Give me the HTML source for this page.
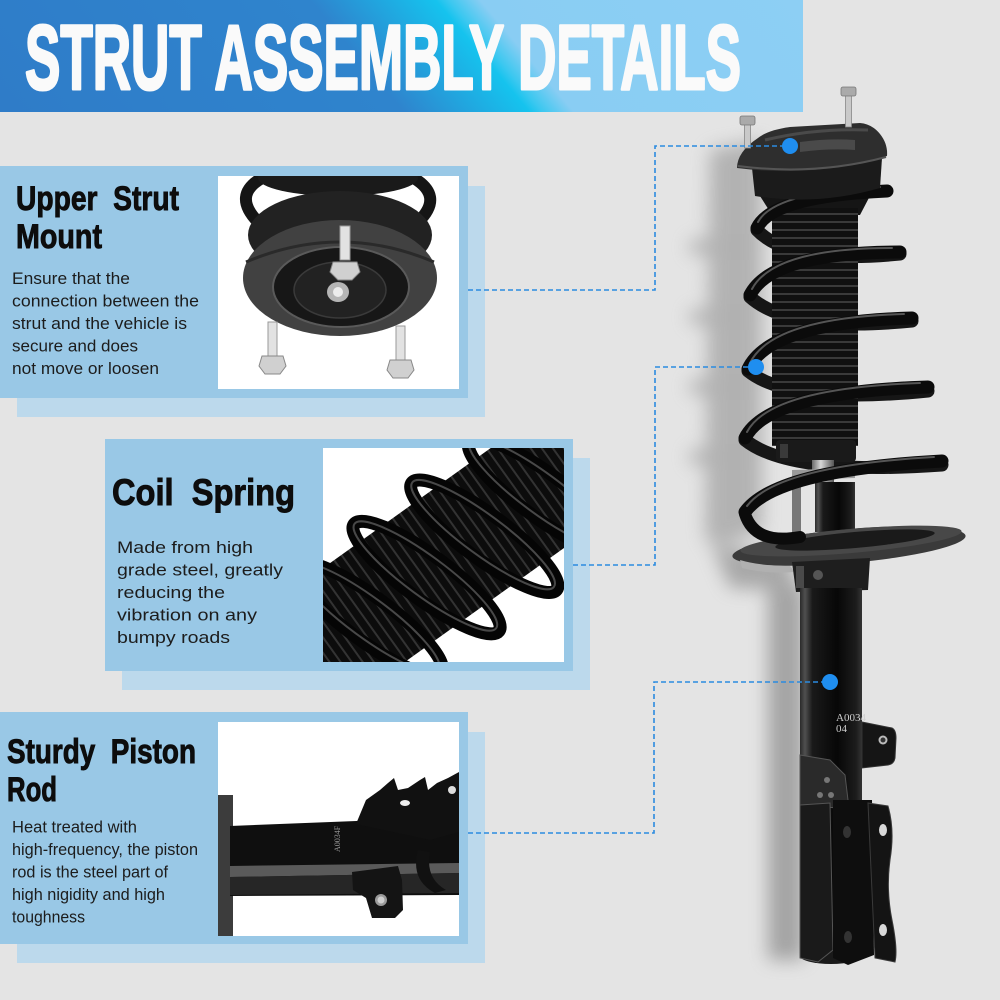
<!DOCTYPE html>
<html>
<head>
<meta charset="utf-8">
<style>
  html,body{margin:0;padding:0;background:#e4e4e4;}
  svg{display:block;}
  .t{font-family:"Liberation Sans",Arial,sans-serif;font-weight:bold;fill:#0d0d0d;stroke:#0d0d0d;stroke-width:0.9px;white-space:pre;}
  .b{font-family:"Liberation Sans",Arial,sans-serif;font-size:16.5px;fill:#1c1c1c;white-space:pre;}
</style>
</head>
<body>
<svg width="1000" height="1000" viewBox="0 0 1000 1000" xmlns="http://www.w3.org/2000/svg">
<defs>
  <linearGradient id="ban" gradientUnits="userSpaceOnUse" x1="0" y1="112" x2="526" y2="-330">
    <stop offset="0" stop-color="#2f7cc8"/>
    <stop offset="0.45" stop-color="#2f84cd"/>
    <stop offset="0.59" stop-color="#15c3ee"/>
    <stop offset="0.605" stop-color="#3cc8f0"/>
    <stop offset="0.64" stop-color="#89cdf3"/>
    <stop offset="1" stop-color="#8dcff4"/>
  </linearGradient>
  <linearGradient id="tube" x1="0" y1="0" x2="1" y2="0">
    <stop offset="0" stop-color="#2a2a2a"/>
    <stop offset="0.08" stop-color="#505050"/>
    <stop offset="0.2" stop-color="#1a1a1a"/>
    <stop offset="0.6" stop-color="#070707"/>
    <stop offset="0.9" stop-color="#1c1c1c"/>
    <stop offset="1" stop-color="#333"/>
  </linearGradient>
  <linearGradient id="silver" x1="0" y1="0" x2="1" y2="0">
    <stop offset="0" stop-color="#6a6a6a"/>
    <stop offset="0.4" stop-color="#d8d8d8"/>
    <stop offset="1" stop-color="#555"/>
  </linearGradient>
  <pattern id="ribs" x="772" y="0" width="86" height="8" patternUnits="userSpaceOnUse">
    <rect width="86" height="8" fill="#101010"/>
    <rect y="5" width="86" height="2" fill="#3a3a3a"/>
  </pattern>
  <pattern id="ribs2" x="0" y="0" width="9" height="160" patternUnits="userSpaceOnUse">
    <rect width="9" height="160" fill="#0c0c0c"/>
    <rect x="6" width="2" height="160" fill="#333"/>
  </pattern>
  <filter id="blur" x="-50%" y="-50%" width="200%" height="200%"><feGaussianBlur stdDeviation="9"/></filter>
  <clipPath id="c1"><rect x="218" y="176" width="241" height="213"/></clipPath>
  <clipPath id="c2"><rect x="323" y="448" width="241" height="214"/></clipPath>
  <clipPath id="c3"><rect x="218" y="722" width="241" height="214"/></clipPath>
</defs>

<!-- background -->
<rect width="1000" height="1000" fill="#e4e4e4"/>

<!-- banner -->
<rect x="0" y="0" width="803" height="112" fill="url(#ban)"/>
<text x="25" y="89" font-family="Liberation Sans, Arial, sans-serif" font-weight="bold" font-size="92" fill="#fafafa" stroke="#fafafa" stroke-width="3" stroke-linejoin="round" textLength="716" lengthAdjust="spacingAndGlyphs">STRUT ASSEMBLY DETAILS</text>

<!-- ===== Panel 1 ===== -->
<rect x="17" y="186" width="468" height="231" fill="#bcd9ec"/>
<rect x="0" y="166" width="468" height="232" fill="#99c8e6"/>
<rect x="218" y="176" width="241" height="213" fill="#ffffff"/>
<g clip-path="url(#c1)">
  <path d="M258 222 Q232 195 262 178" fill="none" stroke="#151515" stroke-width="12"/>
  <path d="M418 222 Q446 195 410 176" fill="none" stroke="#151515" stroke-width="12"/>
  <ellipse cx="338" cy="178" rx="80" ry="18" fill="#1a1a1a"/>
  <ellipse cx="340" cy="235" rx="92" ry="44" fill="#222"/>
  <ellipse cx="340" cy="278" rx="97" ry="58" fill="#414141"/>
  <path d="M246 262 Q340 222 434 262" fill="none" stroke="#2a2a2a" stroke-width="3"/>
  <ellipse cx="341" cy="287" rx="68" ry="40" fill="#171717" stroke="#5a5a5a" stroke-width="2"/>
  <ellipse cx="340" cy="290" rx="46" ry="28" fill="#222" stroke="#3a3a3a" stroke-width="1.5"/>
  <ellipse cx="338" cy="292" rx="11" ry="10" fill="#b5b5b5"/>
  <ellipse cx="338" cy="292" rx="5" ry="5" fill="#ececec"/>
  <rect x="340" y="226" width="10" height="34" fill="#e2e2e2" stroke="#999" stroke-width="1"/>
  <polygon points="333,262 357,262 360,272 352,280 338,280 330,272" fill="#d0d0d0" stroke="#888" stroke-width="1"/>
  <rect x="268" y="322" width="9" height="34" fill="#e2e2e2" stroke="#999" stroke-width="1"/>
  <polygon points="262,356 283,356 286,366 280,374 265,374 259,366" fill="#d0d0d0" stroke="#888" stroke-width="1"/>
  <rect x="396" y="326" width="9" height="34" fill="#e2e2e2" stroke="#999" stroke-width="1"/>
  <polygon points="390,360 411,360 414,370 408,378 393,378 387,370" fill="#d0d0d0" stroke="#888" stroke-width="1"/>
</g>
<text class="t" x="16" y="210" font-size="34" textLength="163" lengthAdjust="spacingAndGlyphs">Upper  Strut</text>
<text class="t" x="16" y="248" font-size="34" textLength="86" lengthAdjust="spacingAndGlyphs">Mount</text>
<text class="b" x="12" y="284" textLength="118" lengthAdjust="spacingAndGlyphs">Ensure that the</text>
<text class="b" x="12" y="306.5" textLength="187" lengthAdjust="spacingAndGlyphs">connection between the</text>
<text class="b" x="12" y="329" textLength="175" lengthAdjust="spacingAndGlyphs">strut and the vehicle is</text>
<text class="b" x="12" y="351.5" textLength="126" lengthAdjust="spacingAndGlyphs">secure and does</text>
<text class="b" x="12" y="374" textLength="147" lengthAdjust="spacingAndGlyphs">not move or loosen</text>

<!-- ===== Panel 2 ===== -->
<rect x="122" y="458" width="468" height="232" fill="#bcd9ec"/>
<rect x="105" y="439" width="468" height="232" fill="#99c8e6"/>
<rect x="323" y="448" width="241" height="214" fill="#ffffff"/>
<g clip-path="url(#c2)">
  <g transform="translate(445,557) rotate(-35.6)">
    <rect x="-290" y="-80" width="130" height="160" fill="#1c1c1c"/>
    <rect x="-260" y="-62" width="540" height="124" fill="url(#ribs2)"/>
    <g fill="none" stroke="#050505" stroke-width="13">
      <ellipse cx="-98" cy="6" rx="22" ry="90" transform="rotate(-18 -98 6)"/>
      <ellipse cx="-27" cy="6" rx="22" ry="90" transform="rotate(-18 -27 6)"/>
      <ellipse cx="44" cy="6" rx="22" ry="90" transform="rotate(-18 44 6)"/>
      <ellipse cx="115" cy="6" rx="22" ry="90" transform="rotate(-18 115 6)"/>
    </g>
    <g fill="none" stroke="#484848" stroke-width="2">
      <ellipse cx="-98" cy="4" rx="20" ry="88" transform="rotate(-18 -98 4)"/>
      <ellipse cx="-27" cy="4" rx="20" ry="88" transform="rotate(-18 -27 4)"/>
      <ellipse cx="44" cy="4" rx="20" ry="88" transform="rotate(-18 44 4)"/>
      <ellipse cx="115" cy="4" rx="20" ry="88" transform="rotate(-18 115 4)"/>
    </g>
  </g>
</g>
<text class="t" x="112" y="505" font-size="37" textLength="183" lengthAdjust="spacingAndGlyphs">Coil  Spring</text>
<text class="b" x="117" y="553" textLength="136" lengthAdjust="spacingAndGlyphs">Made from high</text>
<text class="b" x="117" y="575.5" textLength="166" lengthAdjust="spacingAndGlyphs">grade steel, greatly</text>
<text class="b" x="117" y="598" textLength="108" lengthAdjust="spacingAndGlyphs">reducing the</text>
<text class="b" x="117" y="620.5" textLength="140" lengthAdjust="spacingAndGlyphs">vibration on any</text>
<text class="b" x="117" y="643" textLength="113" lengthAdjust="spacingAndGlyphs">bumpy roads</text>

<!-- ===== Panel 3 ===== -->
<rect x="17" y="732" width="468" height="231" fill="#bcd9ec"/>
<rect x="0" y="712" width="468" height="232" fill="#99c8e6"/>
<rect x="218" y="722" width="241" height="214" fill="#ffffff"/>
<g clip-path="url(#c3)">
  <rect x="218" y="795" width="15" height="141" fill="#3c3c3c"/>
  <path d="M230 826 L459 817 L459 895 L230 896 Z" fill="#0f0f0f"/>
  <path d="M230 866 L459 863 L459 873 L230 877 Z" fill="#5a5a5a"/>
  <path d="M230 877 L459 873 L459 893 L230 895 Z" fill="#262626"/>
  <path d="M356 824 L366 800 L380 790 L388 783 L394 778 L398 790 L408 788 L420 780 L425 777 L428 790 L437 783 L448 778 L459 772 L459 832 L430 840 Z" fill="#111"/>
  <ellipse cx="405" cy="803" rx="5" ry="3" fill="#eee"/>
  <circle cx="452" cy="790" r="4" fill="#ddd"/>
  <path d="M418 850 Q410 880 435 893 L446 890 Q425 878 430 852 Z" fill="#111"/>
  <path d="M352 872 L398 866 L402 880 L403 910 L395 918 L372 918 L366 898 L353 890 Z" fill="#141414"/>
  <circle cx="381" cy="900" r="6" fill="#9a9a9a"/>
  <circle cx="381" cy="900" r="3.5" fill="#cfcfcf"/>
  <text transform="translate(340,852) rotate(-90)" font-family="Liberation Serif, serif" font-size="8" fill="#9a9a9a">A0034F</text>
</g>
<text class="t" x="7" y="763" font-size="34" textLength="189" lengthAdjust="spacingAndGlyphs">Sturdy  Piston</text>
<text class="t" x="7" y="801" font-size="34" textLength="50" lengthAdjust="spacingAndGlyphs">Rod</text>
<text class="b" x="12" y="832.5" textLength="125" lengthAdjust="spacingAndGlyphs">Heat treated with</text>
<text class="b" x="12" y="855" textLength="186" lengthAdjust="spacingAndGlyphs">high-frequency, the piston</text>
<text class="b" x="12" y="877.5" textLength="156" lengthAdjust="spacingAndGlyphs">rod is the steel part of</text>
<text class="b" x="12" y="900" textLength="153" lengthAdjust="spacingAndGlyphs">high nigidity and high</text>
<text class="b" x="12" y="922.5" textLength="73" lengthAdjust="spacingAndGlyphs">toughness</text>

<!-- ===== Strut (right) ===== -->
<g filter="url(#blur)" opacity="0.55">
  <path d="M710 150 L762 140 L762 530 L725 545 L705 540 Z" fill="#8a8a8a"/>
  <rect x="690" y="240" width="70" height="14" fill="#888"/>
  <rect x="690" y="310" width="70" height="14" fill="#888"/>
  <rect x="690" y="380" width="70" height="14" fill="#888"/>
  <rect x="690" y="450" width="70" height="14" fill="#888"/>
  <rect x="768" y="585" width="36" height="375" fill="#707070"/>
  <path d="M712 545 L790 558 L795 590 L730 588 Z" fill="#777"/>
</g>

<!-- back strands -->
<g fill="none" stroke="#161616" stroke-width="13" stroke-linecap="round">
  <path d="M757 230 Q790 265 900 254"/>
  <path d="M750 297 Q790 333 912 321"/>
  <path d="M748 371 Q790 405 928 391"/>
  <path d="M745 440 Q790 476 942 465"/>
</g>

<!-- bellows -->
<path d="M760 196 L872 192 L860 215 L772 215 Z" fill="#151515"/>
<rect x="772" y="208" width="86" height="238" fill="url(#ribs)"/>
<rect x="776" y="440" width="80" height="22" rx="4" fill="#1a1a1a"/>
<rect x="780" y="444" width="8" height="14" fill="#3a3a3a"/>
<rect x="812" y="460" width="22" height="22" fill="url(#silver)"/>
<path d="M792 470 L855 468 L855 478 L792 480 Z" fill="#9a9a9a"/>
<rect x="792" y="478" width="9" height="60" fill="#777"/>
<rect x="815" y="482" width="40" height="50" fill="url(#tube)"/>

<!-- front arches -->
<g fill="none" stroke="#0b0b0b" stroke-width="13" stroke-linecap="round">
  <path d="M757 228 Q772 196 887 191"/>
  <path d="M750 295 Q772 252 900 252"/>
  <path d="M748 369 Q770 322 912 318"/>
  <path d="M745 438 Q768 392 928 387"/>
  <path d="M745 512 Q775 470 942 461"/>
</g>
<g fill="none" stroke="#555" stroke-width="2" stroke-linecap="round">
  <path d="M758 222 Q774 192 880 187"/>
  <path d="M752 289 Q774 248 892 248"/>
  <path d="M750 363 Q772 318 904 314"/>
  <path d="M747 432 Q770 388 920 383"/>
  <path d="M747 506 Q777 466 934 457"/>
</g>

<!-- seat -->
<ellipse cx="849" cy="546" rx="117" ry="17" transform="rotate(-5 849 546)" fill="#3a3a3a"/>
<ellipse cx="851" cy="541" rx="111" ry="12" transform="rotate(-5 851 541)" fill="#484848"/>
<ellipse cx="855" cy="540" rx="80" ry="8" transform="rotate(-5 855 540)" fill="#1a1a1a"/>
<path d="M740 560 Q760 566 790 566 L795 572 Q765 574 742 568 Z" fill="#b0b0b0"/>
<path d="M745 514 Q755 545 800 537" fill="none" stroke="#0b0b0b" stroke-width="12" stroke-linecap="round"/>

<!-- collar & tube -->
<path d="M792 562 L870 558 L868 590 L796 592 Z" fill="#1e1e1e"/>
<rect x="796" y="566" width="8" height="22" fill="#4a4a4a"/>
<circle cx="818" cy="575" r="5" fill="#555"/>
<rect x="800" y="588" width="62" height="368" fill="url(#tube)"/>
<ellipse cx="831" cy="956" rx="31" ry="8" fill="#1a1a1a"/>
<text x="836" y="721" font-family="Liberation Serif, serif" font-size="11" fill="#d0d0d0">A0034</text>
<text x="836" y="732" font-family="Liberation Serif, serif" font-size="11" fill="#d0d0d0">04</text>

<!-- brackets -->
<path d="M862 722 L892 728 Q896 730 896 738 L895 758 Q894 764 888 765 L862 768 Z" fill="#151515" stroke="#333" stroke-width="1"/>
<circle cx="883" cy="740" r="4.5" fill="#bbb"/>
<circle cx="883" cy="740" r="2.5" fill="#333"/>
<path d="M800 755 L830 760 L845 775 L848 800 L838 808 L800 805 Z" fill="#2a2a2a" stroke="#555" stroke-width="1"/>
<circle cx="827" cy="780" r="3" fill="#777"/>
<circle cx="820" cy="795" r="3" fill="#777"/>
<circle cx="831" cy="795" r="3" fill="#777"/>
<path d="M800 805 L830 803 L833 950 L818 962 L800 958 Z" fill="#1a1a1a" stroke="#555" stroke-width="1"/>
<path d="M833 800 L872 800 L874 955 L848 965 L833 958 Z" fill="#0e0e0e"/>
<path d="M868 803 L888 806 Q895 830 890 860 Q886 890 892 920 Q898 950 895 962 L875 958 Z" fill="#141414" stroke="#3a3a3a" stroke-width="1"/>
<ellipse cx="883" cy="830" rx="4" ry="6" fill="#d8d8d8"/>
<ellipse cx="883" cy="930" rx="4" ry="6" fill="#d8d8d8"/>
<ellipse cx="847" cy="832" rx="4" ry="6" fill="#333"/>
<ellipse cx="848" cy="937" rx="4" ry="6" fill="#333"/>

<!-- top mount -->
<path d="M752 168 L882 158 L880 188 Q818 206 755 196 Z" fill="#1b1b1b"/>
<path d="M737 168 Q737 152 758 138 Q768 130 790 127 L860 123 Q872 124 880 134 Q888 144 887 156 Q815 178 737 168 Z" fill="#2e2e2e"/>
<path d="M738 166 Q815 176 886 157" fill="none" stroke="#555" stroke-width="2"/>
<path d="M765 140 Q815 128 868 130" fill="none" stroke="#4a4a4a" stroke-width="3"/>
<path d="M800 142 Q830 138 855 140 L855 150 Q830 148 800 152 Z" fill="#4a4a4a"/>
<rect x="744.5" y="124" width="6" height="24" fill="#c9c9c9" stroke="#888" stroke-width="0.8"/>
<rect x="740" y="116" width="15" height="9" rx="2" fill="#aaa" stroke="#777" stroke-width="0.8"/>
<rect x="845.5" y="95" width="6" height="32" fill="#c9c9c9" stroke="#888" stroke-width="0.8"/>
<rect x="841" y="87" width="15" height="9" rx="2" fill="#aaa" stroke="#777" stroke-width="0.8"/>

<!-- connectors -->
<g fill="none" stroke="#2b8be0" stroke-width="1.6" stroke-dasharray="5 3">
  <path d="M468 290 H655 V146 H790"/>
  <path d="M573 565 H655 V367 H756"/>
  <path d="M468 833 H654 V682 H830"/>
</g>
<circle cx="790" cy="146" r="8" fill="#1f8ef0"/>
<circle cx="756" cy="367" r="8" fill="#1f8ef0"/>
<circle cx="830" cy="682" r="8" fill="#1f8ef0"/>
</svg>
</body>
</html>
